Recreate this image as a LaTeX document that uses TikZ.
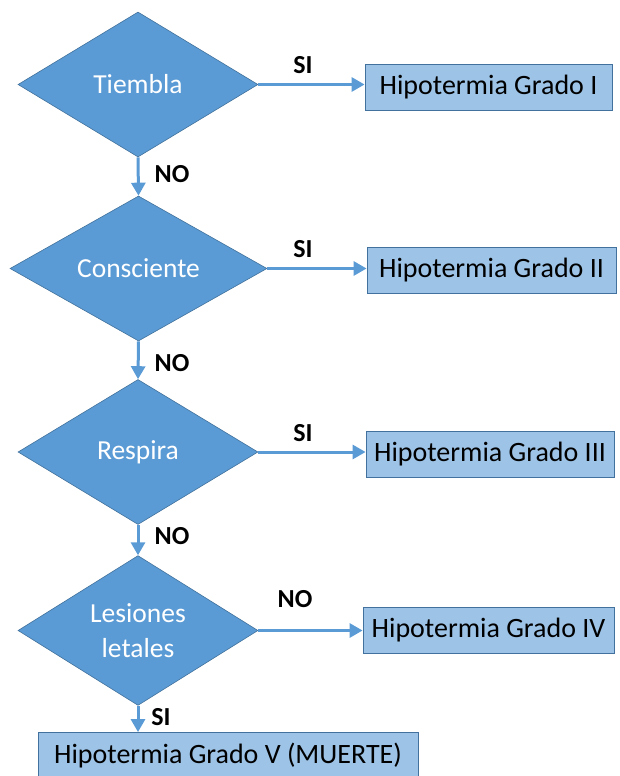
\documentclass[tikz,border=0pt]{standalone}
\usepackage{fontspec}
\setmainfont{Carlito}
\usepackage{tikz}
\usetikzlibrary{positioning, arrows.meta, shapes.geometric}
\definecolor{midblue}{HTML}{5B9BD5}
\definecolor{edgeblue}{HTML}{41719C}
\definecolor{paleblue}{HTML}{9DC3E6}
\tikzset{
  decision/.style={diamond, fill=midblue, draw=edgeblue, line width=0.6pt,
    text=white, inner sep=0pt, align=center, minimum height=145pt,
    font=\fontsize{27.5}{35}\selectfont},
  grade/.style={rectangle, fill=paleblue, draw=edgeblue, line width=0.8pt,
    inner sep=0pt, minimum height=46pt, font=\fontsize{28}{32}\selectfont},
  flow/.style={draw=midblue, line width=3pt, -{Triangle[length=13pt, width=14pt, fill=midblue]}},
  answer/.style={font=\bfseries\fontsize{26}{30}\selectfont},
}

\begin{document}
\begin{tikzpicture}[x=1pt, y=-1pt]
      \useasboundingbox (0,0) rectangle (619,776);
      % questions
      \foreach \i/\txt/\xd/\yd/\dw in {%
        1/Tiembla/138/84.5/240,
        2/Consciente/138.5/268.5/257,
        3/Respira/138/452/240,
        4/{Lesiones\\letales}/138/630.5/240
        } {
        \node[decision, minimum width=\dw pt] (d\i) at (\xd, \yd) {\txt};
      }
      % grades
      \foreach \i/\txt/\xb/\yb/\bw in {%
        1/I/488.5/87/247,
        2/II/491.5/270.5/249,
        3/III/490/454/248,
        4/IV/488.5/630/251,
        5/V (MUERTE)/228/755.5/380
        } {
        \node[grade, minimum width=\bw pt] (b\i) at (\xb, \yb) {Hipotermia Grado \txt};
      }
      % arrows
      \foreach \i in {1,...,4} {
        \draw[flow] (d\i.east) -- (d\i.east -| b\i.west);
      }
      \draw[flow] (d1.south) -- (d2.north);
      \draw[flow] (d2.south) -- (d3.north);
      \draw[flow] (d3.south) -- (d4.north);
      \draw[flow] (d4.south) -- (d4.south |- b5.north);
      % answers
      \foreach \txt/\xa/\ya in {%
        SI/303/65, SI/303/249, SI/303/433, NO/295/599,
        NO/172/174, NO/172/363, NO/172/536, SI/161/717
        } {
        \node[answer] at (\xa, \ya) {\txt};
      }
\end{tikzpicture}
\end{document}
